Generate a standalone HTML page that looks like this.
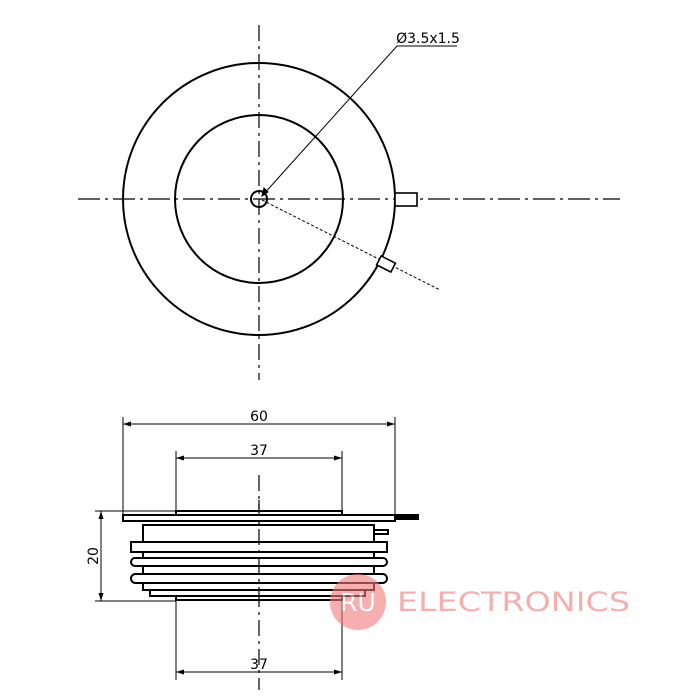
<!DOCTYPE html>
<html><head><style>body{margin:0;background:#fff}svg{display:block}</style></head><body>
<svg width="700" height="700" viewBox="0 0 700 700" xmlns="http://www.w3.org/2000/svg" font-family="'DejaVu Sans','Liberation Sans',sans-serif">
<g stroke="#000" fill="none">
<line x1="78" y1="199" x2="620" y2="199" stroke-width="1.2" stroke-dasharray="22,5,3,5"/>
<line x1="259" y1="25" x2="259" y2="380" stroke-width="1.2" stroke-dasharray="16,5,3,5"/>
<circle cx="259" cy="199" r="136" stroke-width="2"/>
<circle cx="259" cy="199" r="84" stroke-width="2"/>
<circle cx="259" cy="199" r="8" stroke-width="2"/>
<rect x="395" y="193" width="22" height="13" stroke-width="1.6" fill="#fff"/>
<line x1="262" y1="200" x2="440" y2="290" stroke-width="1" stroke-dasharray="3,2"/>
<rect x="-8" y="-5" width="16" height="10" stroke-width="1.6" fill="#fff" transform="translate(386,264) rotate(27)"/>
<polyline points="262,196 397,46 457,46" stroke-width="1"/>
<path d="M262 196 l2 -8 l4 4z" fill="#000"/>
<line x1="259" y1="475" x2="259" y2="690" stroke-width="1.2" stroke-dasharray="16,5,3,5"/>
<line x1="123" y1="417" x2="123" y2="515" stroke-width="1"/>
<line x1="395" y1="417" x2="395" y2="515" stroke-width="1"/>
<line x1="123" y1="424" x2="395" y2="424" stroke-width="1"/>
<line x1="176" y1="451" x2="176" y2="511" stroke-width="1"/>
<line x1="342" y1="451" x2="342" y2="511" stroke-width="1"/>
<line x1="176" y1="458" x2="342" y2="458" stroke-width="1"/>
<line x1="176" y1="600" x2="176" y2="680" stroke-width="1"/>
<line x1="342" y1="600" x2="342" y2="680" stroke-width="1"/>
<line x1="176" y1="672" x2="342" y2="672" stroke-width="1"/>
<line x1="95" y1="511" x2="176" y2="511" stroke-width="1"/>
<line x1="95" y1="601" x2="176" y2="601" stroke-width="1"/>
<line x1="101" y1="511" x2="101" y2="601" stroke-width="1"/>
</g>
<g fill="#000">
<path d="M123 424 l8 -2.5 v5z M395 424 l-8 -2.5 v5z M176 458 l8 -2.5 v5z M342 458 l-8 -2.5 v5z M176 672 l8 -2.5 v5z M342 672 l-8 -2.5 v5z M101 511 l-2.5 8 h5z M101 601 l-2.5 -8 h5z"/>
</g>
<g stroke="#000" stroke-width="2" fill="#fff">
<rect x="176" y="511" width="166" height="4"/>
<rect x="123" y="515" width="272" height="6"/>
<rect x="395" y="515" width="23" height="4" fill="#000"/>
<rect x="374" y="530" width="14" height="4"/>
<rect x="143" y="525" width="231" height="65"/>
<rect x="131" y="542" width="256" height="10"/>
<rect x="131" y="558" width="256" height="8" rx="4"/>
<rect x="131" y="574" width="256" height="9" rx="4.5"/>
<rect x="150" y="590" width="215" height="6"/>
<rect x="176" y="596" width="166" height="4"/>
</g>
<line x1="259" y1="500" x2="259" y2="605" stroke="#000" stroke-width="1.2" stroke-dasharray="16,5,3,5"/>
<g font-size="14" fill="#000" text-anchor="middle">
<text x="259" y="421">60</text>
<text x="259" y="455">37</text>
<text x="259" y="669">37</text>
<text x="98" y="556" transform="rotate(-90 98 556)">20</text>
<text x="428" y="43">Ø3.5x1.5</text>
</g>
<g opacity="0.6">
<circle cx="358" cy="602" r="28" fill="#f37a7a"/>
<text x="358" y="611" font-size="25" fill="#fff" text-anchor="middle">RU</text>
<text x="397" y="611" font-size="27" fill="#f37a7a" textLength="233" lengthAdjust="spacingAndGlyphs">ELECTRONICS</text>
</g>
</svg>
</body></html>
